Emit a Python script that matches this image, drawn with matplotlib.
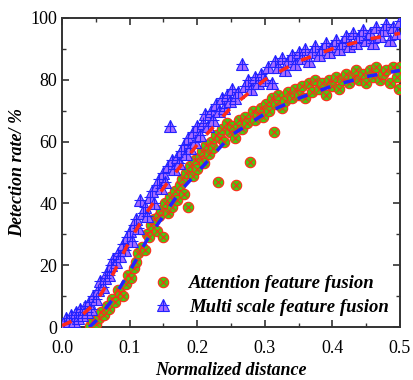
import matplotlib
matplotlib.use('Agg')
import matplotlib.pyplot as plt
from matplotlib.ticker import MultipleLocator

plt.rcParams['font.family'] = 'Liberation Serif'

# Attention feature fusion (green circles)
att_x = [0.041, 0.046, 0.05, 0.055, 0.058, 0.062, 0.066, 0.07, 0.074, 0.078, 0.082, 0.086, 0.09, 0.094,
         0.098, 0.102, 0.106, 0.11, 0.112, 0.118, 0.122, 0.125, 0.128, 0.132, 0.136, 0.14, 0.143, 0.147,
         0.15, 0.153, 0.157, 0.16, 0.163, 0.167, 0.17, 0.174, 0.178, 0.18, 0.183, 0.187, 0.19, 0.193,
         0.197, 0.2, 0.204, 0.207, 0.21, 0.213, 0.217, 0.22, 0.224, 0.228, 0.231, 0.233, 0.237, 0.24,
         0.244, 0.248, 0.252, 0.256, 0.258, 0.262, 0.266, 0.27, 0.274, 0.278, 0.282, 0.286, 0.29, 0.294,
         0.298, 0.302, 0.306, 0.31, 0.313, 0.316, 0.32, 0.325, 0.33, 0.335, 0.34, 0.345, 0.35, 0.355,
         0.36, 0.365, 0.37, 0.375, 0.38, 0.385, 0.39, 0.395, 0.4, 0.405, 0.41, 0.415, 0.42, 0.425, 0.43,
         0.435, 0.44, 0.445, 0.45, 0.455, 0.46, 0.465, 0.47, 0.475, 0.48, 0.485, 0.49, 0.495, 0.498, 0.5]
att_y = [0.5, 2, 1, 3, 5, 4, 7, 6, 9, 8, 12, 11, 10, 14,
         17, 16, 19, 21, 24, 26, 25, 30, 29, 33, 35, 31, 36, 38,
         29, 40, 37, 42, 39, 44, 41, 46, 48, 43, 50, 39, 52, 49,
         54, 51, 55, 57, 53, 59, 56, 60, 58, 62, 47, 61, 64, 60,
         66, 63, 65, 61, 46, 67, 64, 68, 66, 53.5, 70, 67, 69, 71,
         68, 72, 70, 74, 63, 72, 75, 71, 73, 76, 74, 77, 75, 78,
         74, 79, 76, 80, 77, 79, 75, 80, 78, 81, 77, 80, 82, 79, 81,
         83, 80, 82, 79, 83, 81, 84, 80, 82, 83, 79, 84, 81, 77, 84]

# Multi scale feature fusion (purple triangles)
ms_x = [0.003, 0.006, 0.01, 0.013, 0.017, 0.02, 0.024, 0.027, 0.03, 0.034, 0.037, 0.04, 0.043, 0.046,
        0.05, 0.053, 0.056, 0.06, 0.063, 0.066, 0.07, 0.073, 0.076, 0.08, 0.083, 0.086, 0.09, 0.093,
        0.096, 0.1, 0.103, 0.106, 0.11, 0.113, 0.116, 0.12, 0.123, 0.126, 0.13, 0.133, 0.136, 0.14,
        0.143, 0.146, 0.15, 0.153, 0.156, 0.16, 0.162, 0.166, 0.17, 0.173, 0.176, 0.18, 0.183, 0.186,
        0.19, 0.193, 0.197, 0.2, 0.204, 0.208, 0.212, 0.216, 0.22, 0.224, 0.228, 0.232, 0.236, 0.24,
        0.244, 0.248, 0.252, 0.256, 0.26, 0.266, 0.27, 0.275, 0.28, 0.285, 0.29, 0.295, 0.3, 0.305,
        0.31, 0.315, 0.32, 0.325, 0.33, 0.335, 0.34, 0.345, 0.35, 0.355, 0.36, 0.365, 0.37, 0.375,
        0.38, 0.385, 0.39, 0.395, 0.4, 0.405, 0.41, 0.415, 0.42, 0.425, 0.43, 0.435, 0.44, 0.445,
        0.45, 0.455, 0.46, 0.465, 0.47, 0.475, 0.48, 0.485, 0.49, 0.495, 0.5]
ms_y = [1, 3, 2, 4, 2, 5, 3, 6, 4, 7, 5, 8, 6, 10,
        9, 12, 15, 13, 16, 18, 17, 20, 22, 21, 24, 23, 27, 25,
        29, 31, 28, 33, 35, 32, 41, 37, 39, 36, 42, 44, 40, 46,
        48, 45, 50, 47, 52, 65, 54, 51, 55, 53, 57, 59, 56, 61,
        58, 63, 60, 65, 62, 66, 69, 65, 70, 67, 72, 70, 74, 71,
        75, 73, 77, 74, 76, 85, 78, 80, 77, 81, 79, 82, 80, 84,
        79, 86, 84, 87, 83, 86, 88, 85, 89, 87, 90, 86, 89, 91,
        88, 90, 92, 89, 91, 93, 90, 92, 94, 91, 95, 92, 94, 96,
        93, 95, 92, 97, 94, 96, 98, 93, 97, 95, 99]

# fitted trend lines
fit_x = [0.0, 0.025, 0.05, 0.075, 0.1, 0.125, 0.15, 0.175, 0.2, 0.25, 0.3, 0.35, 0.4, 0.45, 0.5]
fit_ms = [0.5, 3, 8, 17, 28, 37, 45, 52, 59, 71, 80, 86, 90, 93, 95]
fit_att_x = [0.04, 0.05, 0.075, 0.1, 0.125, 0.15, 0.175, 0.2, 0.25, 0.3, 0.35, 0.4, 0.45, 0.5]
fit_att = [0, 2, 9, 18, 28, 36, 44, 50, 62, 69, 74, 78, 81, 83]

fig = plt.figure(figsize=(4.14, 3.8), dpi=100)
ax = fig.add_axes([0.150, 0.139, 0.816, 0.814])

green = '#44cc11'
red = '#ff2a1a'
violet = '#a46cff'
blue = '#2222ff'

h1 = ax.plot(att_x, att_y, 'o', ms=7.5, mfc=green, mec=red, mew=0.8, ls='none', zorder=3)[0]
h1x = ax.plot(att_x, att_y, 'x', ms=5, mec=red, mew=0.8, ls='none', zorder=3)[0]
h2 = ax.plot(ms_x, ms_y, '^', ms=8, mfc=violet, mec=blue, mew=0.8, ls='none', zorder=4)[0]
h2p = ax.plot(ms_x, ms_y, '+', ms=8, mec=blue, mew=0.8, ls='none', zorder=4)[0]

ax.plot(fit_x, fit_ms, '--', color=red, lw=2.5, dashes=(3, 4), zorder=5)
ax.plot(fit_att_x, fit_att, '--', color=blue, lw=2.5, dashes=(3, 4), zorder=5)

ax.set_xlim(0, 0.5)
ax.set_ylim(0, 100)
ax.xaxis.set_major_locator(MultipleLocator(0.1))
ax.xaxis.set_minor_locator(MultipleLocator(0.05))
ax.yaxis.set_major_locator(MultipleLocator(20))
ax.yaxis.set_minor_locator(MultipleLocator(10))
ax.tick_params(which='both', direction='in', top=True, right=True, colors='#333333', labelcolor='black')
ax.tick_params(which='major', length=5, width=1.2, labelsize=13)
ax.tick_params(which='minor', length=3, width=1.0)
ax.tick_params(axis='x', which='major', pad=9)
for s in ax.spines.values():
    s.set_linewidth(1.4)
    s.set_color('#333333')

ax.set_xlabel('Normalized distance', fontsize=13, fontweight='bold', style='italic', labelpad=4)
ax.set_ylabel('Detection rate/ %', fontsize=13, fontweight='bold', style='italic', labelpad=3)

ax.legend([(h1, h1x), (h2, h2p)], ['Attention feature fusion', 'Multi scale feature fusion'],
          loc='lower right', frameon=False, prop={'size': 13.5, 'weight': 'bold', 'style': 'italic'},
          handlelength=1.0, handletextpad=0.9, borderaxespad=0.2, labelspacing=0.35)

fig.savefig('out.png', dpi=100)
